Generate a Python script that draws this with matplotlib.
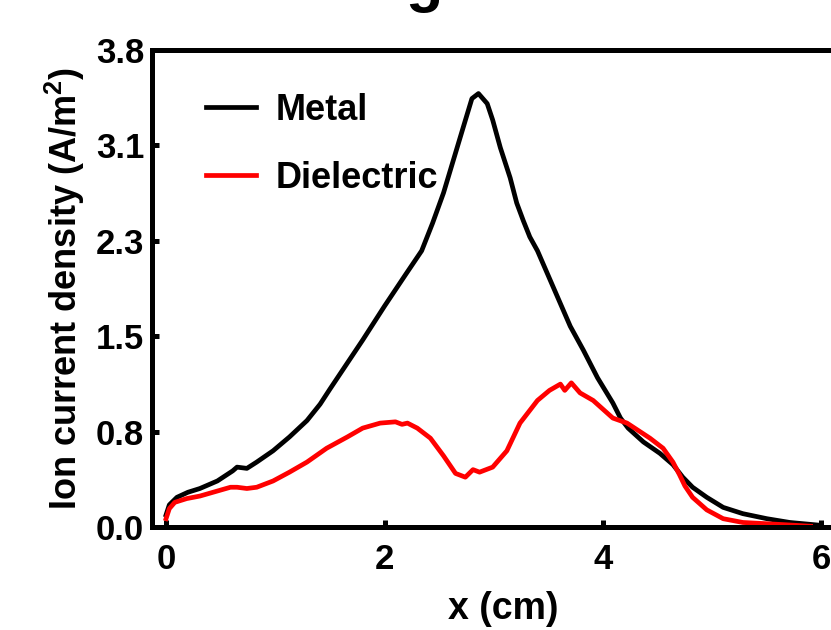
import numpy as np
import matplotlib
matplotlib.use("Agg")
import matplotlib.pyplot as plt

plt.rcParams["font.family"] = ["Liberation Sans", "DejaVu Sans"]
plt.rcParams["font.weight"] = "bold"
plt.rcParams["mathtext.fontset"] = "custom"
plt.rcParams["mathtext.rm"] = "Liberation Sans:bold"
plt.rcParams["mathtext.bf"] = "Liberation Sans:bold"
plt.rcParams["mathtext.default"] = "bf"

# Ion current density profiles along x
metal_x = [0.0, 0.03, 0.10, 0.20, 0.31, 0.47, 0.61, 0.65, 0.74, 0.83, 0.98, 1.13,
           1.29, 1.41, 1.5, 1.6, 1.8, 2.0, 2.2, 2.34, 2.44, 2.54, 2.63, 2.72, 2.80,
           2.86, 2.94, 2.99, 3.06, 3.15, 3.21, 3.27, 3.33, 3.40, 3.5, 3.6, 3.7,
           3.82, 3.95, 4.09, 4.16, 4.23, 4.37, 4.52, 4.64, 4.73, 4.82, 4.95,
           5.10, 5.28, 5.50, 5.71, 5.96]
metal_y = [0.10, 0.18, 0.24, 0.28, 0.31, 0.37, 0.45, 0.48, 0.47, 0.52, 0.61, 0.72,
           0.85, 0.98, 1.10, 1.23, 1.49, 1.76, 2.02, 2.20, 2.42, 2.66, 2.92, 3.18, 3.41,
           3.45, 3.37, 3.24, 3.02, 2.78, 2.58, 2.44, 2.31, 2.20, 2.00, 1.80, 1.60,
           1.41, 1.19, 0.99, 0.87, 0.79, 0.68, 0.59, 0.50, 0.40, 0.32, 0.24,
           0.16, 0.11, 0.07, 0.04, 0.02]

diel_x = [0.0, 0.03, 0.08, 0.19, 0.31, 0.47, 0.59, 0.65, 0.74, 0.83, 0.98, 1.13,
          1.29, 1.47, 1.66, 1.8, 1.96, 2.10, 2.16, 2.21, 2.30, 2.42, 2.54, 2.65,
          2.74, 2.81, 2.87, 2.99, 3.12, 3.24, 3.40, 3.51, 3.61, 3.65, 3.71, 3.79,
          3.91, 4.09, 4.22, 4.43, 4.55, 4.64, 4.70, 4.75, 4.82, 4.95, 5.10, 5.28,
          5.50, 5.71, 5.90]
diel_y = [0.07, 0.15, 0.20, 0.23, 0.25, 0.29, 0.32, 0.32, 0.31, 0.32, 0.37, 0.44,
          0.52, 0.63, 0.72, 0.79, 0.83, 0.84, 0.82, 0.83, 0.79, 0.71, 0.57, 0.43,
          0.40, 0.46, 0.44, 0.48, 0.61, 0.83, 1.01, 1.09, 1.14, 1.09, 1.15, 1.07,
          1.01, 0.87, 0.83, 0.71, 0.63, 0.52, 0.42, 0.33, 0.24, 0.14, 0.07, 0.04,
          0.03, 0.02, 0.01]

x_ticks = [0, 2, 4, 6]
x_ticklabels = ["0", "2", "4", "6"]
y_ticks = np.linspace(0, 3.8, 6)
y_ticklabels = ["0.0", "0.8", "1.5", "2.3", "3.1", "3.8"]

fig = plt.figure(figsize=(8.31, 6.30), dpi=100)
fig.patch.set_facecolor("white")

ax = fig.add_axes([0.1835, 0.1627, 0.8445, 0.7587])
ax.plot(metal_x, metal_y, color="black", lw=3.4, label="Metal", solid_joinstyle="round")
ax.plot(diel_x, diel_y, color="#ff0000", lw=3.4, label="Dielectric", solid_joinstyle="round")

ax.set_xlim(-0.124, 6.3)
ax.set_ylim(0, 3.8)
ax.set_xticks(x_ticks)
ax.set_xticklabels(x_ticklabels)
ax.set_yticks(y_ticks)
ax.set_yticklabels(y_ticklabels)

for side in ["left", "bottom", "top", "right"]:
    ax.spines[side].set_linewidth(3.6)
ax.tick_params(direction="in", length=5, width=3.6, labelsize=25, pad=6)
ax.tick_params(axis="x", pad=11)
for lbl in ax.get_xticklabels() + ax.get_yticklabels():
    lbl.set_fontweight("bold")

ax.set_xlabel("x (cm)", fontsize=27, fontweight="bold", labelpad=11)
ax.set_ylabel(r"Ion current density (A/m$^{2}$)", fontsize=26, fontweight="bold", labelpad=6)

leg = ax.legend(loc="upper left", bbox_to_anchor=(0.055, 0.94), frameon=False,
                fontsize=26, handlelength=1.4, handletextpad=0.55, labelspacing=0.92,
                borderaxespad=0)
for t in leg.get_texts():
    t.set_fontweight("bold")

fig.text(0.51, 1.0, "g", fontsize=44, ha="center", va="baseline", color="black")

fig.savefig("out.png", dpi=100, facecolor="white")
